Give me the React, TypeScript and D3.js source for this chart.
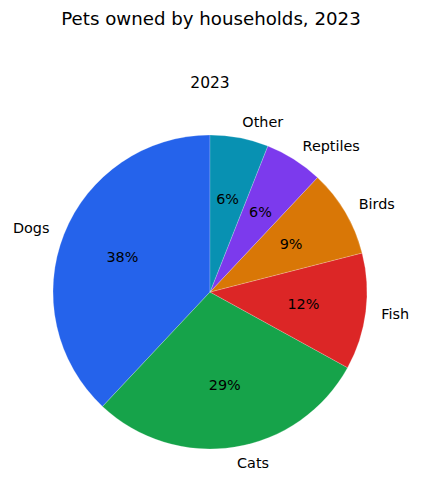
import { useRef, useEffect } from "react";
import * as d3 from "d3";

const CATEGORIES = ["Dogs", "Cats", "Fish", "Birds", "Reptiles", "Other"];
const SHARES = [38, 29, 12, 9, 6, 6];
const COLORS = ["#2563eb", "#16a34a", "#dc2626", "#d97706", "#7c3aed", "#0891b2"];

const TITLE = "Pets owned by households, 2023";
const SUBTITLE = "2023";

const WIDTH = 422;
const HEIGHT = 499;
const FONT = "DejaVu Sans, sans-serif";

interface Slice {
  name: string;
  value: number;
  color: string;
}

export default function App() {
  const svgRef = useRef<SVGSVGElement>(null);

  useEffect(() => {
    if (!svgRef.current) return;
    const svg = d3.select(svgRef.current);
    svg.selectAll("*").remove();

    const cx = 210;
    const cy = 292;
    const radius = 157;

    const data: Slice[] = CATEGORIES.map((name, i) => ({
      name,
      value: SHARES[i],
      color: COLORS[i],
    }));
    const total = d3.sum(data, (d) => d.value);

    // counter-clockwise from 12 o'clock, like matplotlib startangle=90
    const pie = d3
      .pie<Slice>()
      .sort(null)
      .value((d) => d.value)
      .startAngle(0)
      .endAngle(-2 * Math.PI);

    const arcs = pie(data);

    const arc = d3
      .arc<d3.PieArcDatum<Slice>>()
      .innerRadius(0)
      .outerRadius(radius);

    svg
      .append("text")
      .attr("x", WIDTH / 2)
      .attr("y", 25)
      .attr("text-anchor", "middle")
      .style("font-family", FONT)
      .style("font-size", "18.2px")
      .text(TITLE);

    svg
      .append("text")
      .attr("x", cx)
      .attr("y", 88)
      .attr("text-anchor", "middle")
      .style("font-family", FONT)
      .style("font-size", "15.5px")
      .text(SUBTITLE);

    const g = svg.append("g").attr("transform", `translate(${cx},${cy})`);

    g.selectAll("path.wedge")
      .data(arcs)
      .join("path")
      .attr("class", "wedge")
      .attr("d", (d) => arc(d) ?? "")
      .attr("fill", (d) => d.data.color)
      .attr("stroke", "#ffffff")
      .attr("stroke-width", 0.4)
      .attr("stroke-opacity", 0.5);

    const mid = (d: d3.PieArcDatum<Slice>) => (d.startAngle + d.endAngle) / 2;

    g.selectAll("text.label")
      .data(arcs)
      .join("text")
      .attr("class", "label")
      .attr("x", (d) => Math.sin(mid(d)) * radius * 1.1)
      .attr("y", (d) => -Math.cos(mid(d)) * radius * 1.1)
      .attr("text-anchor", (d) => (Math.sin(mid(d)) < 0 ? "end" : "start"))
      .attr("dominant-baseline", "central")
      .style("font-family", FONT)
      .style("font-size", "14.4px")
      .text((d) => d.data.name);

    g.selectAll("text.pct")
      .data(arcs)
      .join("text")
      .attr("class", "pct")
      .attr("x", (d) => Math.sin(mid(d)) * radius * 0.6)
      .attr("y", (d) => -Math.cos(mid(d)) * radius * 0.6)
      .attr("text-anchor", "middle")
      .attr("dominant-baseline", "central")
      .style("font-family", FONT)
      .style("font-size", "14.4px")
      .text((d) => `${Math.round((d.data.value / total) * 100)}%`);
  }, []);

  return (
    <svg
      ref={svgRef}
      width={WIDTH}
      height={HEIGHT}
      style={{ position: "absolute", left: 0, top: 0, background: "#ffffff" }}
    />
  );
}
